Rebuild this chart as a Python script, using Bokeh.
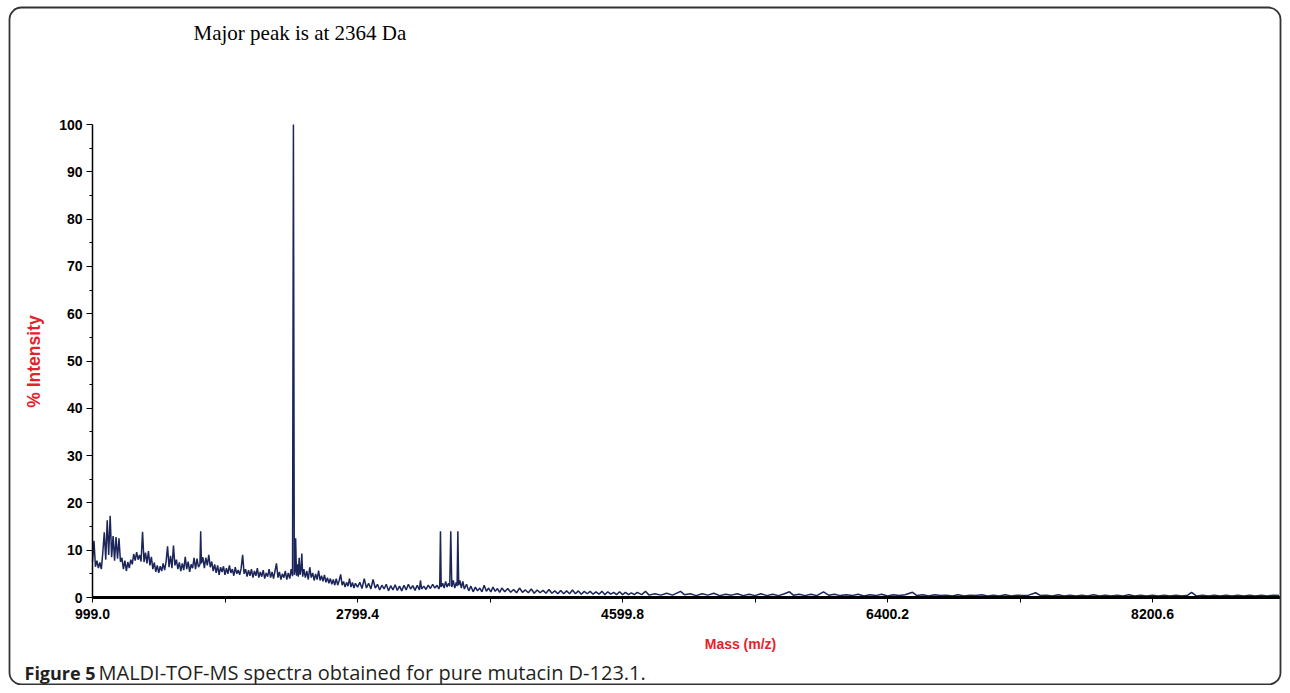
import math
from bokeh.plotting import figure
from bokeh.models import (ColumnDataSource, FixedTicker, NumeralTickFormatter,
                          Label, BoxAnnotation, Range1d)
from bokeh.embed import file_html
from bokeh.resources import INLINE

# ---- spectrum values (mass in Da, intensity in %) ----
mass_a = [999, 1009, 1019, 1029, 1039, 1049, 1059, 1069, 1079, 1089,
          1099, 1109, 1119, 1129, 1139, 1149, 1159, 1169, 1179, 1189,
          1199, 1209, 1219, 1229, 1239, 1249, 1259, 1269, 1279, 1289,
          1299, 1309, 1319, 1329, 1339, 1349]
int_a = [7.5, 12.0, 6.5, 7.8, 6.2, 7.4, 6.0, 9.5, 13.8, 8.0,
         16.3, 9.0, 17.3, 8.5, 13.0, 7.8, 12.8, 8.2, 12.5, 7.5,
         8.4, 6.0, 7.8, 5.6, 7.5, 6.2, 8.0, 7.0, 9.2, 7.8,
         9.6, 8.0, 9.0, 7.6, 13.9, 7.5]

mass_b = [1359, 1369, 1379, 1389, 1399, 1409, 1419, 1429, 1439, 1449,
          1459, 1469, 1479, 1489, 1499, 1509, 1519, 1529, 1539, 1549,
          1559, 1569, 1579, 1589, 1599, 1609, 1619, 1629, 1639, 1649,
          1659, 1669, 1679, 1689, 1699, 1709, 1719, 1729, 1734, 1739,
          1749]
int_b = [9.5, 7.2, 9.8, 6.8, 8.6, 6.0, 7.4, 5.4, 6.8, 5.2,
         6.6, 5.6, 7.2, 5.8, 7.6, 10.8, 6.4, 8.8, 6.2, 11.0,
         6.8, 8.0, 6.0, 7.4, 5.6, 7.2, 5.8, 8.6, 6.0, 7.6,
         5.4, 7.0, 6.2, 8.4, 6.0, 8.2, 6.4, 7.0, 14.0, 7.2,
         8.5]

mass_c = [1759, 1769, 1779, 1789, 1799, 1809, 1819, 1829, 1839, 1849,
          1859, 1869, 1879, 1889, 1899, 1909, 1919, 1929, 1939, 1949,
          1959, 1969, 1979, 1989, 1999, 2009, 2019, 2029, 2039, 2049,
          2059, 2069, 2079, 2089, 2099, 2109, 2119, 2129, 2139, 2149,
          2159, 2169, 2179, 2189, 2199, 2209, 2219, 2229, 2239, 2249,
          2259, 2269, 2279, 2289, 2299, 2309, 2319, 2329, 2339, 2349,
          2358, 2364, 2370]
int_c = [6.2, 8.4, 6.8, 9.0, 6.4, 7.6, 5.6, 7.0, 5.2, 6.8,
         4.8, 6.4, 5.4, 6.6, 4.8, 6.2, 5.0, 6.8, 5.2, 6.0,
         4.6, 6.4, 5.0, 5.8, 4.8, 6.2, 9.0, 5.0, 6.0, 4.4,
         5.8, 4.6, 6.0, 4.2, 5.6, 4.6, 6.2, 4.2, 5.4, 4.4,
         5.8, 4.0, 5.2, 4.4, 6.0, 4.2, 5.4, 4.0, 5.6, 7.2,
         4.2, 5.4, 3.8, 5.0, 4.2, 5.6, 3.8, 5.2, 4.0, 6.0,
         4.5, 100.0, 4.8]

mass_d = [2374, 2379, 2385, 2391, 2397, 2403, 2409, 2415, 2421, 2427,
          2435, 2445, 2455, 2465, 2475, 2485, 2495, 2505, 2515, 2525,
          2535, 2545, 2555, 2565, 2575, 2585, 2595, 2605, 2615, 2625,
          2635, 2645, 2655, 2665, 2675, 2685, 2695, 2705, 2715, 2725,
          2735, 2745, 2755, 2765, 2775, 2785]
int_d = [5.5, 12.5, 4.6, 7.0, 4.4, 8.4, 4.8, 5.8, 9.3, 4.4,
         6.0, 4.2, 5.6, 3.8, 6.4, 4.2, 5.2, 3.6, 5.0, 3.8,
         5.7, 3.6, 4.6, 3.4, 4.8, 3.2, 4.2, 3.0, 4.0, 2.8,
         3.8, 2.6, 4.0, 2.6, 3.6, 4.9, 2.6, 3.4, 2.2, 3.2,
         2.4, 4.0, 2.2, 3.2, 2.0, 3.0]

mass_e = [2800, 2815, 2830, 2845, 2860, 2875, 2890, 2905, 2920, 2935,
          2950, 2965, 2980, 2995, 3010, 3025, 3040, 3055, 3070, 3085,
          3100, 3115, 3130, 3145, 3160, 3175, 3190, 3205, 3220, 3227,
          3235, 3250, 3265, 3280, 3295, 3310, 3325, 3340, 3352, 3358,
          3363, 3368, 3378, 3388, 3398, 3408, 3418, 3426, 3433, 3440,
          3450, 3460, 3470, 3476, 3481, 3487, 3495, 3505, 3515, 3525,
          3540, 3555, 3570, 3585, 3600, 3615, 3630, 3645, 3660, 3675,
          3690, 3705, 3720, 3735, 3750, 3765, 3780]
int_e = [2.2, 3.2, 1.9, 4.0, 2.0, 3.0, 1.8, 3.8, 2.0, 2.8,
         1.6, 2.6, 1.8, 2.8, 1.4, 2.5, 1.6, 2.7, 1.5, 2.4,
         1.4, 2.6, 1.6, 2.8, 1.8, 2.5, 1.5, 2.6, 1.6, 3.6,
         1.8, 2.4, 1.7, 2.6, 1.9, 2.8, 2.0, 2.6, 1.8, 2.4,
         14.0, 2.2, 3.0, 2.0, 3.4, 2.2, 3.0, 2.4, 14.0, 2.2,
         3.6, 2.0, 3.2, 2.4, 14.0, 2.6, 3.6, 2.0, 3.4, 1.8,
         2.8, 1.4, 2.4, 1.2, 2.2, 1.4, 2.0, 1.2, 2.6, 1.3,
         2.0, 1.2, 2.2, 1.3, 1.9, 1.1, 2.0]

mass_f = [3800, 3820, 3840, 3860, 3880, 3900, 3920, 3940, 3960, 3980,
          4000, 4020, 4040, 4060, 4080, 4100, 4120, 4140, 4160, 4180,
          4200, 4220, 4240, 4260, 4280, 4300, 4320, 4340, 4360, 4380,
          4400, 4420, 4440, 4460, 4480, 4500, 4520, 4540, 4560, 4580,
          4600, 4620, 4640, 4660, 4680, 4700]
int_f = [1.2, 1.9, 1.1, 1.7, 1.0, 2.0, 1.1, 1.6, 1.0, 1.8,
         0.9, 1.6, 1.0, 1.5, 0.9, 1.7, 0.9, 1.4, 0.8, 1.5,
         0.8, 1.4, 0.8, 1.6, 0.8, 1.4, 0.7, 1.3, 0.8, 1.3,
         0.7, 1.2, 0.7, 1.3, 0.6, 1.2, 0.7, 1.1, 0.6, 1.2,
         0.6, 1.1, 0.6, 1.0, 0.6, 1.1]

mass_g = [4730, 4756, 4780, 4820, 4860, 4900, 4940, 4994, 5020, 5060,
          5100, 5140, 5180, 5220, 5260, 5300, 5340, 5380, 5420, 5460,
          5500, 5540, 5580, 5620, 5660, 5700, 5734, 5760, 5800, 5840,
          5880, 5920, 5965, 6000, 6040, 6080, 6120, 6160, 6200, 6240,
          6280, 6320, 6360, 6400, 6440, 6480, 6520, 6570, 6600, 6640,
          6680, 6720, 6760, 6800, 6840, 6880, 6920, 6960, 7000, 7040,
          7080, 7120, 7160, 7200, 7240, 7280, 7320, 7360, 7406, 7440,
          7480, 7520, 7560, 7600, 7640, 7680, 7720, 7760, 7800, 7840,
          7880, 7920, 7960, 8000, 8040, 8080, 8120, 8160, 8200, 8240,
          8280, 8320, 8360, 8400, 8440, 8466, 8500, 8540, 8580, 8620,
          8660, 8700, 8740, 8780, 8820, 8860, 8900, 8940, 8980, 9020,
          9060]
int_g = [0.6, 1.3, 0.5, 0.8, 0.5, 0.9, 0.5, 1.3, 0.6, 0.8,
         0.4, 0.8, 0.5, 0.9, 0.4, 0.7, 0.5, 0.8, 0.4, 0.7,
         0.4, 0.8, 0.4, 0.7, 0.4, 0.8, 1.2, 0.5, 0.7, 0.4,
         0.7, 0.4, 1.2, 0.5, 0.7, 0.4, 0.6, 0.4, 0.7, 0.3,
         0.6, 0.4, 0.7, 0.3, 0.6, 0.4, 0.6, 1.1, 0.4, 0.6,
         0.3, 0.6, 0.4, 0.5, 0.3, 0.6, 0.3, 0.5, 0.4, 0.6,
         0.3, 0.5, 0.3, 0.6, 0.3, 0.5, 0.4, 0.5, 1.0, 0.4,
         0.5, 0.3, 0.6, 0.3, 0.5, 0.3, 0.5, 0.3, 0.6, 0.3,
         0.5, 0.3, 0.5, 0.3, 0.6, 0.3, 0.5, 0.3, 0.5, 0.3,
         0.5, 0.3, 0.5, 0.3, 0.5, 1.1, 0.3, 0.5, 0.3, 0.5,
         0.3, 0.5, 0.3, 0.5, 0.3, 0.5, 0.3, 0.5, 0.3, 0.5,
         0.4]

x_ticks = [999.0, 2799.4, 4599.8, 6400.2, 8200.6]
x_minor_ticks = [1899.2, 3699.6, 5500.0, 7300.4]
y_ticks = [0, 10, 20, 30, 40, 50, 60, 70, 80, 90, 100]
y_minor_ticks = [5, 15, 25, 35, 45, 55, 65, 75, 85, 95]
x_axis_extent = (999.0, 9070.0)
y_axis_extent = (0, 100)

title_text = "Major peak is at 2364 Da"
x_label = "Mass (m/z)"
y_label = "% Intensity"
caption_bold = "Figure 5"
caption_rest = "MALDI-TOF-MS spectra obtained for pure mutacin D-123.1."

segments = [(mass_a, int_a), (mass_b, int_b), (mass_c, int_c), (mass_d, int_d),
            (mass_e, int_e), (mass_f, int_f), (mass_g, int_g)]
mass, intensity = [], []
for m, v in segments:
    assert len(m) == len(v), (len(m), len(v))
    mass += m
    intensity += v

src = ColumnDataSource(data=dict(mass=mass, intensity=intensity))

# ---- layout (pixels on the canvas) ----
W, H = 1282, 685
AX_LEFT, AX_RIGHT = 92, 1280      # pixel columns of 999.0 and the right end
AX_TOP, AX_BOTTOM = 124, 597      # pixel rows of 100 % and 0 %
px_per_x = (AX_RIGHT - AX_LEFT) / (x_axis_extent[1] - x_axis_extent[0])
px_per_y = (AX_BOTTOM - AX_TOP) / (y_axis_extent[1] - y_axis_extent[0])
x_start = x_axis_extent[0] - AX_LEFT / px_per_x
x_end = x_axis_extent[1] + (W - AX_RIGHT) / px_per_x
y_start = y_axis_extent[0] - (H - AX_BOTTOM) / px_per_y
y_end = y_axis_extent[1] + AX_TOP / px_per_y


def sy(row):
    """canvas row (from top) -> screen y (from bottom of the frame)"""
    return H - row


RED = "#e8202a"
NAVY = "#1b2559"
INK = "#231f20"

p = figure(width=W, height=H, x_range=Range1d(x_start, x_end),
           y_range=Range1d(y_start, y_end),
           output_backend="svg", toolbar_location=None)
p.min_border = 0
p.min_border_left = 0
p.min_border_right = 0
p.min_border_top = 0
p.min_border_bottom = 0
p.background_fill_color = "white"
p.border_fill_color = "white"
p.outline_line_color = None
p.grid.visible = False

p.line(x="mass", y="intensity", source=src, line_color=NAVY, line_width=1.5)

# x axis, drawn at intensity 0
xa = p.xaxis[0]
xa.fixed_location = 0
xa.bounds = x_axis_extent
xa.ticker = FixedTicker(ticks=x_ticks, minor_ticks=x_minor_ticks)
xa.formatter = NumeralTickFormatter(format="0.0")
xa.axis_line_width = 3
xa.axis_line_color = "black"
xa.major_tick_out = 5
xa.major_tick_in = 0
xa.minor_tick_out = 5
xa.minor_tick_in = 0
xa.major_tick_line_color = "black"
xa.minor_tick_line_color = "black"
xa.major_label_standoff = 6
xa.major_label_text_font = "Liberation Sans"
xa.major_label_text_font_style = "bold"
xa.major_label_text_font_size = "14px"
xa.major_label_text_color = "black"

# y axis, drawn at mass 999.0
ya = p.yaxis[0]
ya.fixed_location = x_axis_extent[0]
ya.bounds = y_axis_extent
ya.ticker = FixedTicker(ticks=y_ticks, minor_ticks=y_minor_ticks)
ya.axis_line_width = 1.5
ya.axis_line_color = "black"
ya.major_tick_out = 6
ya.major_tick_in = 0
ya.minor_tick_out = 3
ya.minor_tick_in = 0
ya.major_tick_line_color = "black"
ya.minor_tick_line_color = "black"
ya.major_label_standoff = 4
ya.major_label_text_font = "Liberation Sans"
ya.major_label_text_font_style = "bold"
ya.major_label_text_font_size = "14px"
ya.major_label_text_color = "black"

# texts
p.add_layout(Label(x=193, y=sy(32), x_units="screen", y_units="screen",
                   text=title_text, text_font="Liberation Serif",
                   text_font_size="21px", text_color="black",
                   text_baseline="middle", text_align="left"))
p.add_layout(Label(x=740, y=sy(643), x_units="screen", y_units="screen",
                   text=x_label, text_font="Liberation Sans",
                   text_font_style="bold", text_font_size="14px",
                   text_color=RED, text_baseline="middle", text_align="center"))
p.add_layout(Label(x=33, y=sy(361), x_units="screen", y_units="screen",
                   text=y_label, text_font="Liberation Sans", angle=math.pi / 2,
                   text_font_style="bold", text_font_size="17.5px",
                   text_color=RED, text_baseline="middle", text_align="center"))
p.add_layout(Label(x=24, y=sy(672), x_units="screen", y_units="screen",
                   text=caption_bold, text_font="Open Sans",
                   text_font_style="bold", text_font_size="18px",
                   text_color=INK, text_baseline="middle",
                   text_align="left"))
p.add_layout(Label(x=98, y=sy(672), x_units="screen", y_units="screen",
                   text=caption_rest, text_font="Open Sans",
                   text_font_size="20px", text_color=INK,
                   text_baseline="middle", text_align="left"))

# rounded frame around the whole figure
p.add_layout(BoxAnnotation(left=9, right=W - 2, top=sy(7), bottom=1,
                           left_units="screen", right_units="screen",
                           top_units="screen", bottom_units="screen",
                           fill_color=None, fill_alpha=0,
                           line_color="#333333", line_alpha=1.0,
                           line_width=1.8, border_radius=12))

open("out.html", "w").write(file_html(p, INLINE))
